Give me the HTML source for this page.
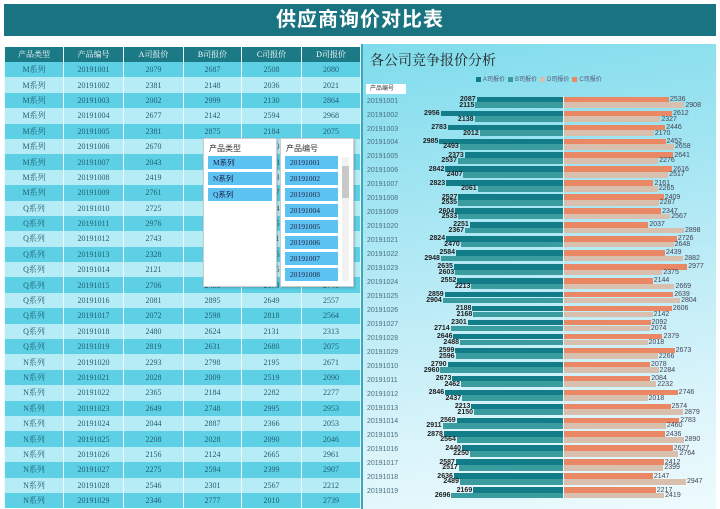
<!DOCTYPE html>
<html><head><meta charset="utf-8">
<style>
*{margin:0;padding:0;box-sizing:border-box}
body{width:720px;height:509px;overflow:hidden;background:#fff;position:relative;font-family:"Liberation Serif","Noto Serif CJK SC",serif}
.title{position:absolute;left:4px;top:4px;width:712px;height:32px;background:#1a7380;color:#fff;font:bold 20px "Liberation Sans","Noto Sans CJK SC",sans-serif;text-align:center;line-height:32px;letter-spacing:1px}
table{position:absolute;left:4px;top:47px;border-collapse:collapse;table-layout:fixed;width:356px}
td{height:15.4px;font-size:8px;color:#1f5f70;text-align:center;border-left:1px solid #e8fbff;border-right:1px solid #e8fbff;line-height:15px;white-space:nowrap;overflow:hidden}
tr.h td{background:#1b7a86;color:#fff;height:15px}
tr:nth-child(even) td{background:#5dd0e6}
tr:nth-child(odd):not(.h) td{background:#b6ecf6}
.sl{position:absolute;top:138px;height:149px;width:74px;background:#fff;border:1px solid #ccc;box-shadow:1px 1px 2px rgba(0,0,0,.2);font-family:"Liberation Sans","Noto Sans CJK SC",sans-serif}
.sl .hd{font-size:8px;color:#333;padding:4px 0 0 5px;height:16px}
.sl .it{position:absolute;left:4px;height:13px;background:#5cc2f2;font-size:7.5px;color:#224;line-height:13px;padding-left:5px;font-family:"Liberation Serif","Noto Sans CJK SC",serif}
.chart{position:absolute;left:363px;top:44px;width:353px;height:465px;background:linear-gradient(170deg,#7fdcec 0%,#a8e6f3 35%,#d7f3fa 75%,#eefbfd 100%)}
.ct{position:absolute;left:370px;top:50px;font-size:14px;color:#222;font-family:"Liberation Serif","Noto Serif CJK SC",serif}
.lg{position:absolute;left:473px;top:74px;font-size:6px;color:#557;font-family:"Liberation Sans","Noto Sans CJK SC",sans-serif;white-space:nowrap}
.lg i{display:inline-block;width:5px;height:5px;margin:0 2px 0 3px;vertical-align:middle}
.fb{position:absolute;left:366px;top:84px;width:40px;height:10px;background:#fff;font-size:6px;line-height:10px;padding-left:4px;color:#333;font-family:"Liberation Sans","Noto Sans CJK SC",sans-serif}
.r{position:absolute;left:363px;width:353px;height:11.4px}
.r .c{position:absolute;left:4px;top:1px;font-size:7px;color:#4a7080;font-family:"Liberation Sans",sans-serif}
.L,.R{position:absolute;height:5.7px;display:flex;align-items:center;font-size:7px;font-family:"Liberation Sans",sans-serif;line-height:5px}
.L{right:153px;justify-content:flex-end;color:#222;font-weight:bold}
.R{left:201px;color:#445}
.L b,.R b{display:block;height:5.5px;width:calc(var(--v)*0.0414px)}
.L span{margin-right:1px}.R span{margin-left:1px}
.t1{top:0}.t2{top:5.7px}
.a{background:#127d89}.bb{background:#3a9c9e}.cc{background:#ea8865}.dd{background:#d9bfae}
.mid{position:absolute;left:563px;top:96px;width:1px;height:406px;background:#e8f8fb}
</style></head><body>
<div class="title">供应商询价对比表</div>
<table>
<colgroup><col style="width:59px"><col style="width:60px"><col style="width:60px"><col style="width:58px"><col style="width:60px"><col style="width:59px"></colgroup>
<tr class="h"><td>产品类型</td><td>产品编号</td><td>A司报价</td><td>B司报价</td><td>C司报价</td><td>D司报价</td></tr>
<tr><td>M系列</td><td>20191001</td><td>2079</td><td>2687</td><td>2508</td><td>2080</td></tr>
<tr><td>M系列</td><td>20191002</td><td>2381</td><td>2148</td><td>2036</td><td>2021</td></tr>
<tr><td>M系列</td><td>20191003</td><td>2002</td><td>2999</td><td>2130</td><td>2864</td></tr>
<tr><td>M系列</td><td>20191004</td><td>2677</td><td>2142</td><td>2594</td><td>2968</td></tr>
<tr><td>M系列</td><td>20191005</td><td>2381</td><td>2875</td><td>2184</td><td>2075</td></tr>
<tr><td>M系列</td><td>20191006</td><td>2670</td><td>2520</td><td>2430</td><td>2310</td></tr>
<tr><td>M系列</td><td>20191007</td><td>2043</td><td>2611</td><td>2398</td><td>2745</td></tr>
<tr><td>M系列</td><td>20191008</td><td>2419</td><td>2205</td><td>2563</td><td>2118</td></tr>
<tr><td>M系列</td><td>20191009</td><td>2761</td><td>2390</td><td>2677</td><td>2203</td></tr>
<tr><td>Q系列</td><td>20191010</td><td>2725</td><td>2140</td><td>2854</td><td>2461</td></tr>
<tr><td>Q系列</td><td>20191011</td><td>2976</td><td>2333</td><td>2105</td><td>2590</td></tr>
<tr><td>Q系列</td><td>20191012</td><td>2743</td><td>2688</td><td>2291</td><td>2376</td></tr>
<tr><td>Q系列</td><td>20191013</td><td>2328</td><td>2477</td><td>2716</td><td>2044</td></tr>
<tr><td>Q系列</td><td>20191014</td><td>2121</td><td>2902</td><td>2355</td><td>2830</td></tr>
<tr><td>Q系列</td><td>20191015</td><td>2706</td><td>2455</td><td>2173</td><td>2741</td></tr>
<tr><td>Q系列</td><td>20191016</td><td>2081</td><td>2895</td><td>2649</td><td>2557</td></tr>
<tr><td>Q系列</td><td>20191017</td><td>2072</td><td>2598</td><td>2818</td><td>2564</td></tr>
<tr><td>Q系列</td><td>20191018</td><td>2480</td><td>2624</td><td>2131</td><td>2313</td></tr>
<tr><td>Q系列</td><td>20191019</td><td>2819</td><td>2631</td><td>2680</td><td>2075</td></tr>
<tr><td>N系列</td><td>20191020</td><td>2293</td><td>2798</td><td>2195</td><td>2671</td></tr>
<tr><td>N系列</td><td>20191021</td><td>2028</td><td>2009</td><td>2519</td><td>2090</td></tr>
<tr><td>N系列</td><td>20191022</td><td>2365</td><td>2184</td><td>2282</td><td>2277</td></tr>
<tr><td>N系列</td><td>20191023</td><td>2649</td><td>2748</td><td>2995</td><td>2953</td></tr>
<tr><td>N系列</td><td>20191024</td><td>2044</td><td>2887</td><td>2366</td><td>2053</td></tr>
<tr><td>N系列</td><td>20191025</td><td>2208</td><td>2028</td><td>2090</td><td>2046</td></tr>
<tr><td>N系列</td><td>20191026</td><td>2156</td><td>2124</td><td>2665</td><td>2961</td></tr>
<tr><td>N系列</td><td>20191027</td><td>2275</td><td>2594</td><td>2399</td><td>2907</td></tr>
<tr><td>N系列</td><td>20191028</td><td>2546</td><td>2301</td><td>2567</td><td>2212</td></tr>
<tr><td>N系列</td><td>20191029</td><td>2346</td><td>2777</td><td>2010</td><td>2739</td></tr>
</table>

<div class="sl" style="left:203px"><div class="hd">产品类型</div>
<div class="it" style="top:17px;width:64px">M系列</div>
<div class="it" style="top:33px;width:64px">N系列</div>
<div class="it" style="top:49px;width:64px">Q系列</div></div>
<div class="sl" style="left:280px"><div class="hd">产品编号</div>
<div class="it" style="top:17px;width:53px">20191001</div>
<div class="it" style="top:33px;width:53px">20191002</div>
<div class="it" style="top:49px;width:53px">20191003</div>
<div class="it" style="top:65px;width:53px">20191004</div>
<div class="it" style="top:81px;width:53px">20191005</div>
<div class="it" style="top:97px;width:53px">20191006</div>
<div class="it" style="top:113px;width:53px">20191007</div>
<div class="it" style="top:129px;width:53px">20191008</div>
<div style="position:absolute;left:61px;top:18px;width:7px;height:124px;background:#f2f2f2"></div>
<div style="position:absolute;left:61px;top:27px;width:7px;height:32px;background:#c8c8c8"></div>
</div>

<div class="chart"></div>
<div style="position:absolute;left:361px;top:44px;width:2px;height:465px;background:#3aa8b8"></div>
<div class="ct">各公司竞争报价分析</div>
<div class="lg"><i style="background:#127d89"></i>A司报价<i style="background:#3a9c9e"></i>B司报价<i style="background:#d9bfae"></i>D司报价<i style="background:#ea8865"></i>C司报价</div>
<div class="fb">产品编号</div>
<div class="mid"></div>

<div class="r" style="top:96.6px"><span class="c">20191001</span><div class="L t1"><span>2087</span><b class="a" style="--v:2087"></b></div><div class="L t2"><span>2115</span><b class="bb" style="--v:2115"></b></div><div class="R t1"><b class="cc" style="--v:2536"></b><span>2536</span></div><div class="R t2"><b class="dd" style="--v:2908"></b><span>2908</span></div></div>
<div class="r" style="top:110.55px"><span class="c">20191002</span><div class="L t1"><span>2956</span><b class="a" style="--v:2956"></b></div><div class="L t2"><span>2138</span><b class="bb" style="--v:2138"></b></div><div class="R t1"><b class="cc" style="--v:2612"></b><span>2612</span></div><div class="R t2"><b class="dd" style="--v:2327"></b><span>2327</span></div></div>
<div class="r" style="top:124.5px"><span class="c">20191003</span><div class="L t1"><span>2783</span><b class="a" style="--v:2783"></b></div><div class="L t2"><span>2012</span><b class="bb" style="--v:2012"></b></div><div class="R t1"><b class="cc" style="--v:2446"></b><span>2446</span></div><div class="R t2"><b class="dd" style="--v:2170"></b><span>2170</span></div></div>
<div class="r" style="top:138.45px"><span class="c">20191004</span><div class="L t1"><span>2985</span><b class="a" style="--v:2985"></b></div><div class="L t2"><span>2493</span><b class="bb" style="--v:2493"></b></div><div class="R t1"><b class="cc" style="--v:2452"></b><span>2452</span></div><div class="R t2"><b class="dd" style="--v:2658"></b><span>2658</span></div></div>
<div class="r" style="top:152.4px"><span class="c">20191005</span><div class="L t1"><span>2373</span><b class="a" style="--v:2373"></b></div><div class="L t2"><span>2537</span><b class="bb" style="--v:2537"></b></div><div class="R t1"><b class="cc" style="--v:2641"></b><span>2641</span></div><div class="R t2"><b class="dd" style="--v:2276"></b><span>2276</span></div></div>
<div class="r" style="top:166.35px"><span class="c">20191006</span><div class="L t1"><span>2842</span><b class="a" style="--v:2842"></b></div><div class="L t2"><span>2407</span><b class="bb" style="--v:2407"></b></div><div class="R t1"><b class="cc" style="--v:2616"></b><span>2616</span></div><div class="R t2"><b class="dd" style="--v:2517"></b><span>2517</span></div></div>
<div class="r" style="top:180.3px"><span class="c">20191007</span><div class="L t1"><span>2823</span><b class="a" style="--v:2823"></b></div><div class="L t2"><span>2061</span><b class="bb" style="--v:2061"></b></div><div class="R t1"><b class="cc" style="--v:2161"></b><span>2161</span></div><div class="R t2"><b class="dd" style="--v:2265"></b><span>2265</span></div></div>
<div class="r" style="top:194.25px"><span class="c">20191008</span><div class="L t1"><span>2527</span><b class="a" style="--v:2527"></b></div><div class="L t2"><span>2535</span><b class="bb" style="--v:2535"></b></div><div class="R t1"><b class="cc" style="--v:2409"></b><span>2409</span></div><div class="R t2"><b class="dd" style="--v:2287"></b><span>2287</span></div></div>
<div class="r" style="top:208.2px"><span class="c">20191009</span><div class="L t1"><span>2604</span><b class="a" style="--v:2604"></b></div><div class="L t2"><span>2533</span><b class="bb" style="--v:2533"></b></div><div class="R t1"><b class="cc" style="--v:2347"></b><span>2347</span></div><div class="R t2"><b class="dd" style="--v:2567"></b><span>2567</span></div></div>
<div class="r" style="top:222.15px"><span class="c">20191020</span><div class="L t1"><span>2251</span><b class="a" style="--v:2251"></b></div><div class="L t2"><span>2367</span><b class="bb" style="--v:2367"></b></div><div class="R t1"><b class="cc" style="--v:2037"></b><span>2037</span></div><div class="R t2"><b class="dd" style="--v:2898"></b><span>2898</span></div></div>
<div class="r" style="top:236.1px"><span class="c">20191021</span><div class="L t1"><span>2824</span><b class="a" style="--v:2824"></b></div><div class="L t2"><span>2470</span><b class="bb" style="--v:2470"></b></div><div class="R t1"><b class="cc" style="--v:2726"></b><span>2726</span></div><div class="R t2"><b class="dd" style="--v:2648"></b><span>2648</span></div></div>
<div class="r" style="top:250.05px"><span class="c">20191022</span><div class="L t1"><span>2584</span><b class="a" style="--v:2584"></b></div><div class="L t2"><span>2948</span><b class="bb" style="--v:2948"></b></div><div class="R t1"><b class="cc" style="--v:2439"></b><span>2439</span></div><div class="R t2"><b class="dd" style="--v:2882"></b><span>2882</span></div></div>
<div class="r" style="top:264px"><span class="c">20191023</span><div class="L t1"><span>2635</span><b class="a" style="--v:2635"></b></div><div class="L t2"><span>2603</span><b class="bb" style="--v:2603"></b></div><div class="R t1"><b class="cc" style="--v:2977"></b><span>2977</span></div><div class="R t2"><b class="dd" style="--v:2375"></b><span>2375</span></div></div>
<div class="r" style="top:277.95px"><span class="c">20191024</span><div class="L t1"><span>2552</span><b class="a" style="--v:2552"></b></div><div class="L t2"><span>2213</span><b class="bb" style="--v:2213"></b></div><div class="R t1"><b class="cc" style="--v:2144"></b><span>2144</span></div><div class="R t2"><b class="dd" style="--v:2669"></b><span>2669</span></div></div>
<div class="r" style="top:291.9px"><span class="c">20191025</span><div class="L t1"><span>2859</span><b class="a" style="--v:2859"></b></div><div class="L t2"><span>2904</span><b class="bb" style="--v:2904"></b></div><div class="R t1"><b class="cc" style="--v:2639"></b><span>2639</span></div><div class="R t2"><b class="dd" style="--v:2804"></b><span>2804</span></div></div>
<div class="r" style="top:305.85px"><span class="c">20191026</span><div class="L t1"><span>2188</span><b class="a" style="--v:2188"></b></div><div class="L t2"><span>2168</span><b class="bb" style="--v:2168"></b></div><div class="R t1"><b class="cc" style="--v:2606"></b><span>2606</span></div><div class="R t2"><b class="dd" style="--v:2142"></b><span>2142</span></div></div>
<div class="r" style="top:319.8px"><span class="c">20191027</span><div class="L t1"><span>2301</span><b class="a" style="--v:2301"></b></div><div class="L t2"><span>2714</span><b class="bb" style="--v:2714"></b></div><div class="R t1"><b class="cc" style="--v:2092"></b><span>2092</span></div><div class="R t2"><b class="dd" style="--v:2074"></b><span>2074</span></div></div>
<div class="r" style="top:333.75px"><span class="c">20191028</span><div class="L t1"><span>2646</span><b class="a" style="--v:2646"></b></div><div class="L t2"><span>2488</span><b class="bb" style="--v:2488"></b></div><div class="R t1"><b class="cc" style="--v:2379"></b><span>2379</span></div><div class="R t2"><b class="dd" style="--v:2018"></b><span>2018</span></div></div>
<div class="r" style="top:347.7px"><span class="c">20191029</span><div class="L t1"><span>2599</span><b class="a" style="--v:2599"></b></div><div class="L t2"><span>2596</span><b class="bb" style="--v:2596"></b></div><div class="R t1"><b class="cc" style="--v:2673"></b><span>2673</span></div><div class="R t2"><b class="dd" style="--v:2266"></b><span>2266</span></div></div>
<div class="r" style="top:361.65px"><span class="c">20191010</span><div class="L t1"><span>2790</span><b class="a" style="--v:2790"></b></div><div class="L t2"><span>2960</span><b class="bb" style="--v:2960"></b></div><div class="R t1"><b class="cc" style="--v:2078"></b><span>2078</span></div><div class="R t2"><b class="dd" style="--v:2284"></b><span>2284</span></div></div>
<div class="r" style="top:375.6px"><span class="c">20191011</span><div class="L t1"><span>2673</span><b class="a" style="--v:2673"></b></div><div class="L t2"><span>2462</span><b class="bb" style="--v:2462"></b></div><div class="R t1"><b class="cc" style="--v:2084"></b><span>2084</span></div><div class="R t2"><b class="dd" style="--v:2232"></b><span>2232</span></div></div>
<div class="r" style="top:389.55px"><span class="c">20191012</span><div class="L t1"><span>2846</span><b class="a" style="--v:2846"></b></div><div class="L t2"><span>2437</span><b class="bb" style="--v:2437"></b></div><div class="R t1"><b class="cc" style="--v:2746"></b><span>2746</span></div><div class="R t2"><b class="dd" style="--v:2018"></b><span>2018</span></div></div>
<div class="r" style="top:403.5px"><span class="c">20191013</span><div class="L t1"><span>2213</span><b class="a" style="--v:2213"></b></div><div class="L t2"><span>2150</span><b class="bb" style="--v:2150"></b></div><div class="R t1"><b class="cc" style="--v:2574"></b><span>2574</span></div><div class="R t2"><b class="dd" style="--v:2879"></b><span>2879</span></div></div>
<div class="r" style="top:417.45px"><span class="c">20191014</span><div class="L t1"><span>2569</span><b class="a" style="--v:2569"></b></div><div class="L t2"><span>2911</span><b class="bb" style="--v:2911"></b></div><div class="R t1"><b class="cc" style="--v:2783"></b><span>2783</span></div><div class="R t2"><b class="dd" style="--v:2460"></b><span>2460</span></div></div>
<div class="r" style="top:431.4px"><span class="c">20191015</span><div class="L t1"><span>2878</span><b class="a" style="--v:2878"></b></div><div class="L t2"><span>2564</span><b class="bb" style="--v:2564"></b></div><div class="R t1"><b class="cc" style="--v:2436"></b><span>2436</span></div><div class="R t2"><b class="dd" style="--v:2890"></b><span>2890</span></div></div>
<div class="r" style="top:445.35px"><span class="c">20191016</span><div class="L t1"><span>2440</span><b class="a" style="--v:2440"></b></div><div class="L t2"><span>2250</span><b class="bb" style="--v:2250"></b></div><div class="R t1"><b class="cc" style="--v:2627"></b><span>2627</span></div><div class="R t2"><b class="dd" style="--v:2764"></b><span>2764</span></div></div>
<div class="r" style="top:459.3px"><span class="c">20191017</span><div class="L t1"><span>2587</span><b class="a" style="--v:2587"></b></div><div class="L t2"><span>2517</span><b class="bb" style="--v:2517"></b></div><div class="R t1"><b class="cc" style="--v:2412"></b><span>2412</span></div><div class="R t2"><b class="dd" style="--v:2399"></b><span>2399</span></div></div>
<div class="r" style="top:473.25px"><span class="c">20191018</span><div class="L t1"><span>2636</span><b class="a" style="--v:2636"></b></div><div class="L t2"><span>2489</span><b class="bb" style="--v:2489"></b></div><div class="R t1"><b class="cc" style="--v:2147"></b><span>2147</span></div><div class="R t2"><b class="dd" style="--v:2947"></b><span>2947</span></div></div>
<div class="r" style="top:487.2px"><span class="c">20191019</span><div class="L t1"><span>2169</span><b class="a" style="--v:2169"></b></div><div class="L t2"><span>2696</span><b class="bb" style="--v:2696"></b></div><div class="R t1"><b class="cc" style="--v:2217"></b><span>2217</span></div><div class="R t2"><b class="dd" style="--v:2419"></b><span>2419</span></div></div>
</body></html>
